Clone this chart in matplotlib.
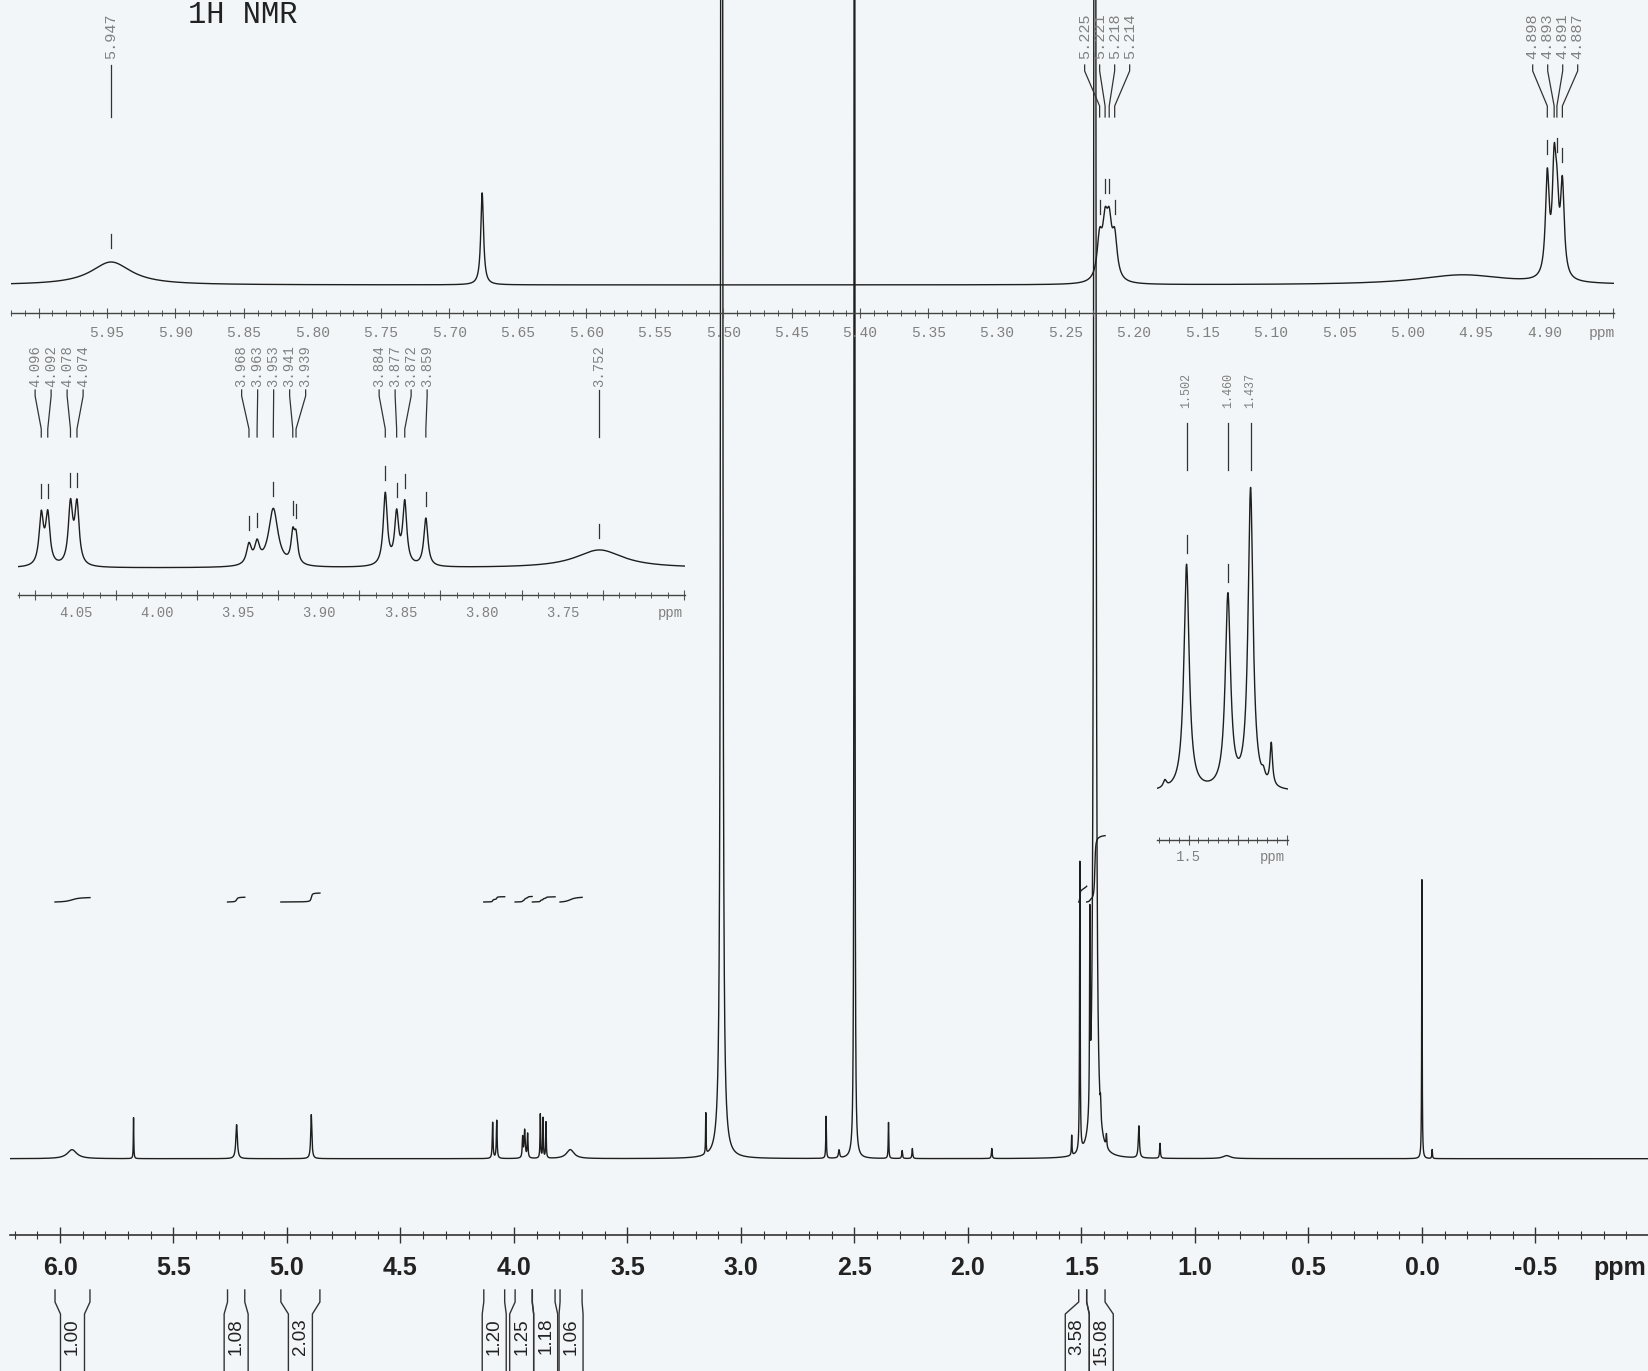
import numpy as np
import matplotlib
matplotlib.use("Agg")
import matplotlib.pyplot as plt

# ---------------- data ----------------
# main spectrum: line positions (ppm), heights (px above baseline), half widths (ppm)
main_ppm = [5.947, 5.676, 5.222, 4.893, 4.094, 4.076, 3.962, 3.953, 3.940, 3.884, 3.872,
            3.859, 3.752, 3.155, 3.085, 2.625, 2.568, 2.500, 2.350, 2.290, 2.245, 1.895,
            1.543, 1.507, 1.463, 1.441, 1.416, 1.390, 1.247, 1.154, 0.860, 0.000, -0.045]
main_height = [9, 41, 34, 44, 36, 38, 20, 28, 24, 44, 40,
               36, 9, 41, 100000, 42, 8, 100000, 36, 8, 10, 10,
               20, 290, 190, 5000, 15, 13, 32, 15, 3, 279, 9]
main_hwhm = [0.025, 0.0012, 0.004, 0.003, 0.002, 0.002, 0.002, 0.003, 0.002, 0.0015, 0.0015,
             0.0015, 0.02, 0.0012, 0.0005, 0.0015, 0.003, 0.0002, 0.0015, 0.002, 0.002, 0.002,
             0.0015, 0.0015, 0.0015, 0.0025, 0.0015, 0.002, 0.003, 0.002, 0.02, 0.0012, 0.0015]
main_ticks = [6.0, 5.5, 5.0, 4.5, 4.0, 3.5, 3.0, 2.5, 2.0, 1.5, 1.0, 0.5, 0.0, -0.5]
main_tick_labels = ["6.0", "5.5", "5.0", "4.5", "4.0", "3.5", "3.0", "2.5", "2.0",
                    "1.5", "1.0", "0.5", "0.0", "-0.5"]

# integrals
int_labels = ["1.00", "1.08", "2.03", "1.20", "1.25", "1.18", "1.06", "3.58", "15.08"]
int_values = [1.00, 1.08, 2.03, 1.20, 1.25, 1.18, 1.06, 3.58, 15.08]
int_from = [6.022, 5.262, 5.027, 4.133, 3.995, 3.919, 3.797, 1.512, 1.477]
int_to = [5.868, 5.186, 4.855, 4.041, 3.920, 3.819, 3.700, 1.477, 1.396]

# top expansion (6.0 - 4.85 ppm)
top_ppm = [5.947, 5.676, 5.225, 5.221, 5.218, 5.214, 4.960, 4.898, 4.893, 4.891, 4.887]
top_height = [23, 92, 40, 48, 48, 40, 10, 100, 100, 60, 90]
top_hwhm = [0.018, 0.0012, 0.0022, 0.0022, 0.0022, 0.0022, 0.04, 0.0016, 0.0016, 0.0016, 0.0016]
top_label_ppm = [5.947, 5.225, 5.221, 5.218, 5.214, 4.898, 4.893, 4.891, 4.887]
top_labels = ["5.947", "5.225", "5.221", "5.218", "5.214", "4.898", "4.893", "4.891", "4.887"]
top_ticks = [6.00, 5.95, 5.90, 5.85, 5.80, 5.75, 5.70, 5.65, 5.60, 5.55, 5.50, 5.45, 5.40,
             5.35, 5.30, 5.25, 5.20, 5.15, 5.10, 5.05, 5.00, 4.95, 4.90, 4.85]
top_tick_labels = ["", "5.95", "5.90", "5.85", "5.80", "5.75", "5.70", "5.65", "5.60", "5.55",
                   "5.50", "5.45", "5.40", "5.35", "5.30", "5.25", "5.20", "5.15", "5.10",
                   "5.05", "5.00", "4.95", "4.90", ""]

# middle expansion (4.11 - 3.70 ppm)
mid_ppm = [4.096, 4.092, 4.078, 4.074, 3.968, 3.963, 3.953, 3.941, 3.939,
           3.884, 3.877, 3.872, 3.859, 3.752]
mid_height = [50, 50, 60, 60, 20, 20, 58, 28, 26, 72, 50, 62, 48, 18]
mid_hwhm = [0.0016, 0.0016, 0.0016, 0.0016, 0.0018, 0.0018, 0.0035, 0.0013, 0.0013,
            0.0015, 0.0015, 0.0015, 0.0015, 0.018]
mid_labels = ["4.096", "4.092", "4.078", "4.074", "3.968", "3.963", "3.953", "3.941",
              "3.939", "3.884", "3.877", "3.872", "3.859", "3.752"]
mid_ticks = [4.10, 4.05, 4.00, 3.95, 3.90, 3.85, 3.80, 3.75, 3.70]
mid_tick_labels = ["", "4.05", "4.00", "3.95", "3.90", "3.85", "3.80", "3.75", ""]

# right expansion (1.53 - 1.40 ppm)
right_ppm = [1.524, 1.502, 1.460, 1.437, 1.424, 1.416]
right_height = [7, 226, 193, 300, 8, 42]
right_hwhm = [0.002, 0.0032, 0.0032, 0.003, 0.002, 0.0015]
right_label_ppm = [1.502, 1.460, 1.437]
right_labels = ["1.502", "1.460", "1.437"]
right_ticks = [1.50, 1.45, 1.40]
right_tick_labels = ["1.5", "", ""]

# ---------------- figure ----------------
W, H = 1648, 1371
fig = plt.figure(figsize=(W / 100, H / 100), dpi=100)
fig.patch.set_facecolor('#f3f6f8')
INK = '#1e1e1e'
GREY = '#808080'
MONO = 'Liberation Mono'
SANS = 'Liberation Sans'


def lorentz_sum(x, ppm, h, w):
    y = np.zeros_like(x)
    for p, hh, ww in zip(ppm, h, w):
        y += hh / (1.0 + ((x - p) / ww) ** 2)
    return y


def panel(x0, x1, y0, y1, base, xlim):
    ax = fig.add_axes([x0 / W, 1 - y1 / H, (x1 - x0) / W, (y1 - y0) / H])
    ax.set_xlim(*xlim)
    ax.set_ylim(base - y1, base - y0)
    ax.patch.set_visible(False)
    for s in ('top', 'left', 'right'):
        ax.spines[s].set_visible(False)
    ax.set_yticks([])
    return ax


def to_px(ax, v):
    v = np.atleast_1d(np.asarray(v, float))
    return ax.transData.transform(np.column_stack([v, np.zeros_like(v)]))[:, 0]


def to_ppm(ax, p):
    p = np.atleast_1d(np.asarray(p, float))
    return ax.transData.inverted().transform(np.column_stack([p, np.zeros_like(p)]))[:, 0]


def spread(xs, sep):
    xs = np.asarray(xs, float)
    order = np.argsort(xs)
    groups = [[xs[i]] for i in order]

    def pos(g):
        m = np.mean(g)
        n = len(g)
        return [m + (k - (n - 1) / 2) * sep for k in range(n)]

    changed = True
    while changed:
        changed = False
        for i in range(len(groups) - 1):
            if pos(groups[i])[-1] + sep > pos(groups[i + 1])[0] + 1e-9:
                groups[i] = groups[i] + groups[i + 1]
                del groups[i + 1]
                changed = True
                break
    out = []
    for g in groups:
        out += pos(g)
    res = np.empty(len(xs))
    res[order] = out
    return res


def annotate(ax, base, xs, ys, ppm, labels, sep, text_top, l1, l2, l3, l4, gap, mlen, fs):
    lx = to_ppm(ax, spread(to_px(ax, ppm), sep))
    order = np.argsort(xs)
    tops = np.interp(ppm, xs[order], ys[order])
    for p, q, lab, t in zip(ppm, lx, labels, tops):
        ax.text(q, base - text_top, lab, rotation=90, ha='center', va='top', fontsize=fs,
                family=MONO, color=GREY, clip_on=False)
        ax.plot([q, q, p, p], [base - l1, base - l2, base - l3, base - l4], color='#333333',
                lw=0.9, clip_on=False)
        if t + gap + mlen < base - l4:
            ax.plot([p, p], [t + gap, t + gap + mlen], color='#333333', lw=0.9)


def inset_ticks(ax, base, ticks, labels, minor_step, label_y, dx_px=0, fs=10.5):
    ax.set_xticks(ticks)
    ax.set_xticklabels([])
    lo, hi = sorted(ax.get_xlim())
    ax.set_xticks(np.arange(np.ceil(lo / minor_step) * minor_step, hi + 1e-9, minor_step), minor=True)
    ax.tick_params(axis='x', which='major', direction='inout', length=7, width=0.8, colors='#555555')
    ax.tick_params(axis='x', which='minor', direction='inout', length=4, width=0.7, colors='#555555')
    ax.spines['bottom'].set_color('#444444')
    ax.spines['bottom'].set_linewidth(1.0)
    px = to_px(ax, ticks) + dx_px
    pos = to_ppm(ax, px)
    for q, lab in zip(pos, labels):
        if lab:
            ax.text(q, base - label_y, lab, ha='center', va='center', fontsize=fs,
                    family=MONO, color=GREY, clip_on=False)


# ---------------- main spectrum ----------------
BASE_M = 1158.7
axm = panel(10, W, 0, 1235, BASE_M, (6.2203, -0.996))
xm = np.linspace(6.2203, -0.996, 160000)
ym = lorentz_sum(xm, main_ppm, main_height, main_hwhm)
axm.plot(xm, ym, color=INK, lw=1.0)

axm.set_xticks(main_ticks)
axm.set_xticklabels([])
axm.set_xticks(np.arange(-0.9, 6.21, 0.1), minor=True)
axm.tick_params(axis='x', which='major', direction='inout', length=11, width=1.0, colors='#333333')
axm.tick_params(axis='x', which='minor', direction='inout', length=6, width=0.8, colors='#333333')
axm.spines['bottom'].set_linewidth(1.2)
axm.spines['bottom'].set_color('#333333')
for v, lab in zip(main_ticks, main_tick_labels):
    axm.text(v, BASE_M - 1268, lab, ha='center', va='center', fontsize=18, fontweight='bold',
             family=SANS, color='#222222', clip_on=False)
axm.text(to_ppm(axm, 1620)[0], BASE_M - 1268, "ppm", ha='center', va='center', fontsize=18,
         fontweight='bold', family=SANS, color='#222222', clip_on=False)

# integral curves
for a, b, val in zip(int_from, int_to, int_values):
    m = (xm <= a) & (xm >= b)
    seg_x = xm[m]
    cum = np.cumsum(ym[m])
    cum = cum / cum[-1]
    axm.plot(seg_x, 256.7 + val * 4.4 * cum, color=INK, lw=1.0)

# integral brackets and labels
centers = (to_px(axm, int_from) + to_px(axm, int_to)) / 2
box_c = spread(centers, 24)
for a, b, c, lab in zip(int_from, int_to, box_c, int_labels):
    bl, br = to_ppm(axm, [c - 12, c + 12])
    cc = to_ppm(axm, c)[0]
    ys = [BASE_M - 1290, BASE_M - 1302, BASE_M - 1314, BASE_M - 1371]
    axm.plot([a, a, bl, bl], ys, color='#333333', lw=1.0, clip_on=False)
    axm.plot([b, b, br, br], ys, color='#333333', lw=1.0, clip_on=False)
    axm.text(cc, BASE_M - 1318, lab, rotation=90, ha='center', va='top', fontsize=13.5,
             family=SANS, color='#222222', clip_on=False)

# ---------------- top expansion ----------------
BASE_T = 285
axt = panel(10.5, 1614.4, 0, 313, BASE_T, (6.0205, 4.849))
xt = np.linspace(6.0205, 4.849, 30000)
yt = lorentz_sum(xt, top_ppm, top_height, top_hwhm)
axt.plot(xt, yt, color=INK, lw=1.0)
inset_ticks(axt, BASE_T, top_ticks, top_tick_labels, 0.01, 333, 0, fs=10.5)
axt.text(to_ppm(axt, 1602)[0], BASE_T - 333, "ppm", ha='center', va='center', fontsize=10.5,
         family=MONO, color=GREY, clip_on=False)
annotate(axt, BASE_T, xt, yt, top_label_ppm, top_labels, 15, 13, 65, 71, 106, 117, 14, 14, 11)

# ---------------- middle expansion ----------------
BASE_MID = 568
axc = panel(17.9, 685, 315, 595, BASE_MID, (4.1104, 3.6993))
xc = np.linspace(4.1104, 3.6993, 20000)
yc = lorentz_sum(xc, mid_ppm, mid_height, mid_hwhm)
axc.plot(xc, yc, color=INK, lw=1.0)
inset_ticks(axc, BASE_MID, mid_ticks, mid_tick_labels, 0.01, 613, -40, fs=10)
axc.text(to_ppm(axc, 670)[0], BASE_MID - 613, "ppm", ha='center', va='center', fontsize=10,
         family=MONO, color=GREY, clip_on=False)
annotate(axc, BASE_MID, xc, yc, mid_ppm, mid_labels, 16, 345, 390, 396, 429, 437, 12, 14, 10)

# ---------------- right expansion ----------------
BASE_R = 792
axr = panel(1157, 1288, 360, 840, BASE_R, (1.532, 1.399))
xr = np.linspace(1.532, 1.399, 8000)
yr = lorentz_sum(xr, right_ppm, right_height, right_hwhm)
axr.plot(xr, yr, color=INK, lw=1.0)
inset_ticks(axr, BASE_R, right_ticks, right_tick_labels, 0.01, 857, 0, fs=10)
axr.text(to_ppm(axr, 1272)[0], BASE_R - 857, "ppm", ha='center', va='center', fontsize=10,
         family=MONO, color=GREY, clip_on=False)
annotate(axr, BASE_R, xr, yr, right_label_ppm, right_labels, 10, 373, 423, 423, 423, 470, 11, 18, 8.5)

# title
fig.text(187.5 / W, 1 - 23 / H, "1H NMR", ha='left', va='baseline', fontsize=22,
         family=MONO, color='#222222')

fig.savefig("out.png", dpi=100, facecolor=fig.get_facecolor())
